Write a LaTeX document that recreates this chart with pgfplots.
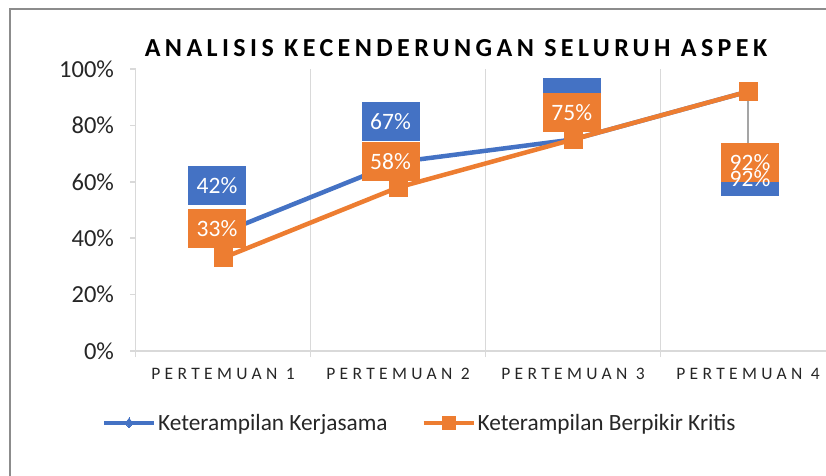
\documentclass[border=0pt]{standalone}
\usepackage{pgfplots}
\pgfplotsset{compat=1.18}
\usepackage{pgfplotstable}
\usepackage{fontspec}
\setmainfont{Carlito}
\newfontfamily\spacedfont{Carlito}[LetterSpace=25]
\newfontfamily\titlefont{Carlito}[LetterSpace=17]
\definecolor{xblue}{HTML}{4472C4}
\definecolor{xorange}{HTML}{ED7D31}
\definecolor{xgrid}{HTML}{D9D9D9}
\definecolor{xlead}{HTML}{A5A5A5}
\definecolor{xtext}{HTML}{262626}
\definecolor{xframe}{HTML}{8C8C8C}

% Keterampilan Kerjasama: value, label offset (pt), label text
\pgfplotstableread{
x y dx dy lab
0 42 -6 47 42\%
1 67 -7.5 40.5 67\%
2 75 -1.5 42 {}
3 92 2 -85 {}
}\kerja
% overlay text of the overlapping Kerjasama label
\pgfplotstableread{
x y dx dy lab
3 92 2 -87.5 92\%
}\kerjatop
% Keterampilan Berpikir Kritis
\pgfplotstableread{
x y dx dy lab
0 33 -6 29.4 33\%
1 58 -7.5 25.9 58\%
2 75 -1.2 27 75\%
3 92 2 -71 92\%
}\kritis

\begin{document}
\begin{tikzpicture}
\clip (0,0) rectangle (826pt,475pt);
\path[use as bounding box] (0,0) rectangle (826pt,475pt);
\draw[xframe, line width=2pt] (10pt,-5pt) -- (10pt,466pt) -- (840pt,466pt);
\node[font=\titlefont\bfseries\fontsize{26}{30}\selectfont] at (456pt,427pt) {ANALISIS KECENDERUNGAN SELURUH ASPEK};
\begin{axis}[
  at={(135.5pt,124pt)}, anchor=south west, scale only axis,
  width=700pt, height=282pt,
  xmin=-0.5, xmax=3.5, ymin=0, ymax=100,
  axis x line=bottom, axis y line=left,
  axis line style={-, xgrid, line width=1.5pt},
  xtick={0,1,2,3},
  xticklabels={PERTEMUAN 1,PERTEMUAN 2,PERTEMUAN 3,PERTEMUAN 4},
  major x tick style={draw=none},
  minor xtick={-0.5,0.5,1.5,2.5,3.5},
  xminorgrids,
  minor x grid style={xgrid, line width=1.5pt},
  minor x tick style={xgrid, line width=1.5pt},
  minor tick length=6pt,
  ytick={0,20,...,100},
  yticklabel={\pgfmathprintnumber{\tick}\%},
  major y tick style={xgrid, line width=1.5pt},
  major tick length=5pt,
  tick align=outside,
  /pgf/number format/assume math mode=true,
  yticklabel style={font=\fontsize{24.5}{29}\selectfont, text=xtext, xshift=-13pt},
  xticklabel style={font=\spacedfont\fontsize{17.5}{20}\selectfont, text=xtext, yshift=-9pt},
  clip=false,
  legend columns=2,
  legend cell align=left,
  legend style={at={(axis description cs:-0.048,-0.255)}, anchor=west,
    draw=none, fill=none, inner sep=0pt,
    font=\fontsize{23.3}{28}\selectfont, text=xtext,
    /tikz/every even column/.append style={column sep=32pt}},
]
\addplot[xblue, line width=4.5pt, mark=diamond*, mark size=6pt,
  mark options={solid, fill=xblue, draw=xblue, line width=0pt},
  legend image code/.code={\draw[xblue, line width=4pt, mark repeat=2, mark phase=2, mark=diamond*, mark size=5pt, mark options={solid, fill=xblue, draw=xblue, line width=0pt}] plot coordinates {(0pt,0pt) (25pt,0pt) (50pt,0pt)};}]
  table[x=x,y=y]{\kerja};
\addlegendentry{Keterampilan Kerjasama}
\addplot[xorange, line width=4.5pt, mark=square*, mark size=9pt,
  mark options={solid, fill=xorange, draw=xorange, line width=0pt},
  legend image code/.code={\draw[xorange, line width=4pt, mark repeat=2, mark phase=2, mark=square*, mark size=6.5pt, mark options={solid, fill=xorange, draw=xorange, line width=0pt}] plot coordinates {(0pt,0pt) (25pt,0pt) (50pt,0pt)};}]
  table[x=x,y=y]{\kritis};
\addlegendentry{Keterampilan Berpikir Kritis}
% leader lines
\addplot[xlead, line width=2.5pt, forget plot] coordinates {(3,92) (3,73.8)};
\addplot[xlead, line width=2.5pt, forget plot] coordinates {(2,75) (2,77.7)};
% data labels: Kerjasama boxes
\addplot[draw=none, forget plot, point meta=explicit symbolic,
  nodes near coords,
  visualization depends on={\thisrow{dx}\as\labdx},
  visualization depends on={\thisrow{dy}\as\labdy},
  nodes near coords style={anchor=center, xshift=\labdx pt, yshift=\labdy pt,
    fill=xblue, text=white, minimum width=58pt, minimum height=39pt, inner sep=0pt,
    font=\fontsize{23.5}{27}\selectfont}]
  table[x=x,y=y,meta=lab]{\kerja};
% Berpikir Kritis boxes
\addplot[draw=none, forget plot, point meta=explicit symbolic,
  nodes near coords,
  visualization depends on={\thisrow{dx}\as\labdx},
  visualization depends on={\thisrow{dy}\as\labdy},
  nodes near coords style={anchor=center, xshift=\labdx pt, yshift=\labdy pt,
    fill=xorange, text=white, minimum width=58pt, minimum height=39pt, inner sep=0pt,
    font=\fontsize{23.5}{27}\selectfont}]
  table[x=x,y=y,meta=lab]{\kritis};
% Kerjasama text at point 4, drawn over the boxes
\addplot[draw=none, forget plot, point meta=explicit symbolic,
  nodes near coords,
  visualization depends on={\thisrow{dx}\as\labdx},
  visualization depends on={\thisrow{dy}\as\labdy},
  nodes near coords style={anchor=center, xshift=\labdx pt, yshift=\labdy pt,
    text=white, inner sep=0pt, font=\fontsize{23.5}{27}\selectfont}]
  table[x=x,y=y,meta=lab]{\kerjatop};
\end{axis}
\end{tikzpicture}
\end{document}
